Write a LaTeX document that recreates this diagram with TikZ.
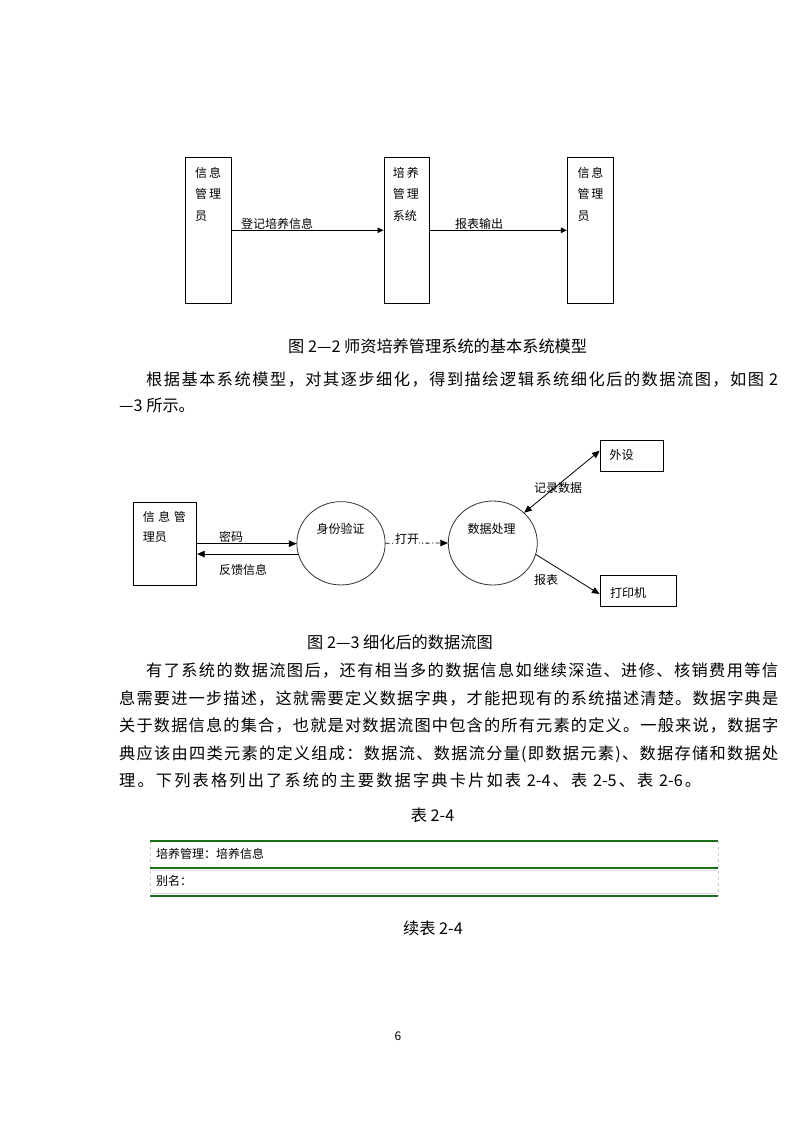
\documentclass[tikz,border=0pt]{standalone}
\usepackage{fontspec}
\setmainfont{Noto Sans CJK SC}
\usetikzlibrary{arrows.meta,shapes.geometric}
\definecolor{tblgreen}{RGB}{25,110,25}
\ExplSyntaxOn
\seq_new:N \l_my_chars_seq
\NewDocumentCommand\jline{mm}
  {
    \seq_set_split:Nnn \l_my_chars_seq {} {#2}
    \makebox[#1][s]{ \seq_use:Nn \l_my_chars_seq {\hfil} }
  }
\ExplSyntaxOff
\begin{document}
\begin{tikzpicture}[x=1pt,y=-1pt,
  txt/.style={inner sep=0pt, text height=0.88em, text depth=0.12em, anchor=west},
  body/.style={txt, font=\fontsize{16.2}{16}\selectfont},
  small/.style={txt, font=\fontsize{12}{12}\selectfont},
  box/.style={draw, line width=0.9pt, inner sep=0pt},
  bubble/.style={draw=black!80, line width=0.8pt, ellipse, inner sep=0pt},
  arrA/.style={line width=0.9pt, -{Triangle[length=6pt,width=5.5pt]}},
  arrB/.style={line width=0.8pt, -{Triangle[length=7.5pt,width=6.5pt]}},
  arrBB/.style={line width=0.8pt, {Triangle[length=7.5pt,width=6.5pt]}-{Triangle[length=7.5pt,width=6.5pt]}},
  dashdot/.style={dash pattern=on 4pt off 2.5pt on 1pt off 2.5pt},
  tline/.style={tblgreen, line width=2.6pt},
  tthin/.style={tblgreen, line width=1.3pt},
  tside/.style={gray!45, dashed, line width=0.6pt}
]
\useasboundingbox[fill=white] (0,0) rectangle (793,1122);

% ---------- Figure 2-2 ----------
\node[box, minimum width=46.4pt, minimum height=146pt] (b1) at (208.5,230.3) {};
\node[box, minimum width=45.7pt, minimum height=146pt] (b2) at (406.8,230.3) {};
\node[box, minimum width=46pt, minimum height=146pt] (b3) at (590.3,230.3) {};

\node[small] (b1a) at (195,173.3) {信\hspace{2pt}息};
\node[small] (b1b) at (195,195) {管\hspace{2pt}理};
\node[small] (b1c) at (195,216.7) {员};
\node[small] (b2a) at (392.7,173.3) {培\hspace{2pt}养};
\node[small] (b2b) at (392.7,195) {管\hspace{2pt}理};
\node[small] (b2c) at (392.7,216.7) {系统};
\node[small] (b3a) at (577.3,173.3) {信\hspace{2pt}息};
\node[small] (b3b) at (577.3,195) {管\hspace{2pt}理};
\node[small] (b3c) at (577.3,216.7) {员};

\draw[arrA] (b1.east) -- (b2.west);
\draw[arrA] (b2.east) -- (b3.west);
\node[small] (l1) at (241,224.7) {登记培养信息};
\node[small] (l2) at (455,224.7) {报表输出};

\node[body] (cap1) at (288,349) {图 2—2 师资培养管理系统的基本系统模型};
\node[body] (p1a) at (146,382) {\jline{632pt}{根据基本系统模型，对其逐步细化，得到描绘逻辑系统细化后的数据流图，如图{\ 2}}};
\node[body] (p1b) at (119,408) {—3 所示。};

% ---------- Figure 2-3 ----------
\node[box, minimum width=63.4pt, minimum height=82.7pt] (m1) at (165,543.7) {};
\node[small] (m1a) at (142.7,518) {信\hspace{3.5pt}息\hspace{3.5pt}管};
\node[small] (m1b) at (142.7,538) {理员};

\node[bubble, minimum width=88.3pt, minimum height=83.3pt] (c1) at (341,543.3) {};
\node[small, anchor=center] (c1t) at (340.7,529.3) {身份验证};
\node[bubble, minimum width=89pt, minimum height=84pt] (c2) at (492.8,543) {};
\node[small, anchor=center] (c2t) at (491.7,530) {数据处理};

\node[box, minimum width=63.3pt, minimum height=31.7pt] (ws) at (631.7,455.8) {};
\node[small] (wst) at (609.3,456) {外设};
\node[box, minimum width=76.7pt, minimum height=31.7pt] (pr) at (638.3,590.8) {};
\node[small] (prt) at (610,593.3) {打印机};

\draw[arrB] (m1.east) -- (m1.east -| c1.west);
\draw[arrB] (c1.194.5) -- (c1.194.5 -| m1.east);
\node[small] (lm) at (219,538) {密码};
\node[small] (lf) at (219,570.7) {反馈信息};

\draw[arrB, dashdot] (c1.east) -- (c2.west);
\node[small, fill=white] (lo) at (395,539.3) {打开};

\draw[arrBB] (c2.44) -- ([yshift=5pt]ws.west);
\node[small] (lr) at (534,488.3) {记录数据};
\draw[arrB] (c2.-15) -- ([yshift=-3.2pt]pr.west);
\node[small] (lb) at (534,580.7) {报表};

\node[body] (cap2) at (307,645) {图 2—3 细化后的数据流图};
\node[body] (p2a) at (146,673) {\jline{632pt}{有了系统的数据流图后，还有相当多的数据信息如继续深造、进修、核销费用等信}};
\node[body] (p2b) at (119,700.5) {\jline{659pt}{息需要进一步描述，这就需要定义数据字典，才能把现有的系统描述清楚。数据字典是}};
\node[body] (p2c) at (119,728) {\jline{659pt}{关于数据信息的集合，也就是对数据流图中包含的所有元素的定义。一般来说，数据字}};
\node[body] (p2d) at (119,755.5) {\jline{659pt}{典应该由四类元素的定义组成：数据流、数据流分量(即数据元素)、数据存储和数据处}};
\node[body] (p2e) at (119,782.5) {\jline{582pt}{理。下列表格列出了系统的主要数据字典卡片如表{\ 2-4}、表{\ 2-5}、表{\ 2-6}。}};
\node[body] (t1) at (410.7,818) {表 2-4};

% ---------- Table ----------
\draw[tside] (150,841) -- (150,896);
\draw[tside] (718,841) -- (718,896);
\draw[gray!25, line width=0.6pt] (151,870) -- (717,870);
\draw[gray!25, line width=0.6pt] (151,893.5) -- (717,893.5);
\draw[tline] (150,841) -- (718,841);
\draw[tthin] (150,868) -- (718,868);
\draw[tline] (150,896) -- (718,896);
\node[small] (r1) at (156,855) {培养管理：培养信息};
\node[small] (r2) at (156,882) {别名：};

\node[body] (t2) at (403,931) {续表 2-4};
\node[small, anchor=center] (pg) at (398,1037) {6};
\end{tikzpicture}
\end{document}
